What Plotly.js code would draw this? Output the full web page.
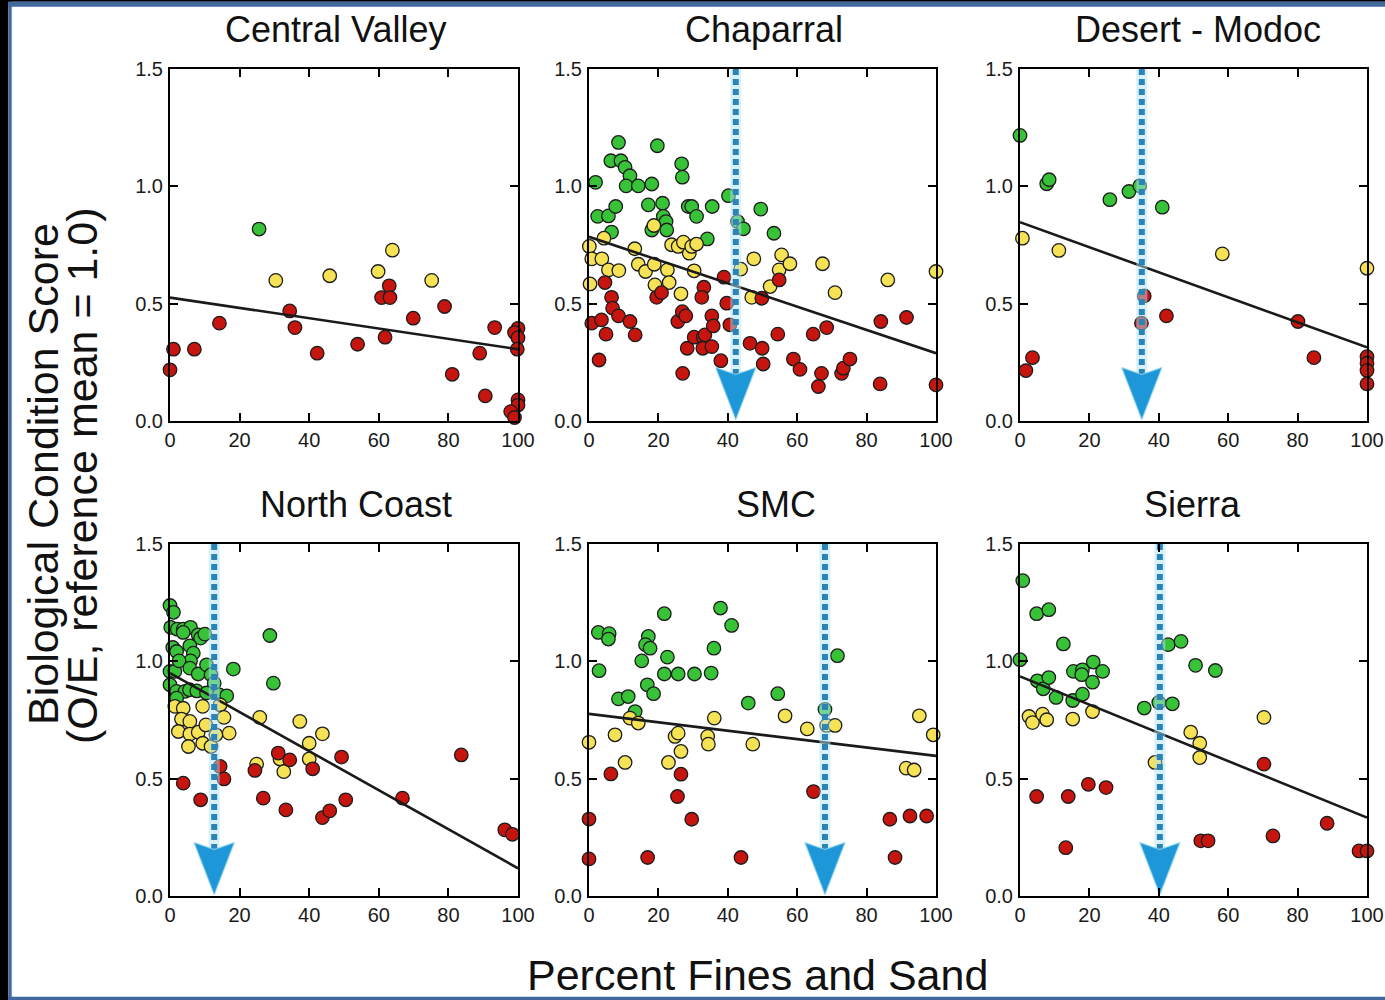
<!DOCTYPE html>
<html><head><meta charset="utf-8">
<script src="https://cdn.plot.ly/plotly-3.0.1.min.js"></script>
<style>html,body{margin:0;padding:0;background:#fff;} #chart{width:1385px;height:1000px;}</style>
</head><body><div id="chart"></div>
<script>
// ---------------- DATA ----------------
const regions = ['Central Valley', 'Chaparral', 'Desert - Modoc', 'North Coast', 'SMC', 'Sierra'];
const xTickVals = [0, 20, 40, 60, 80, 100];
const yTickVals = [0, 0.5, 1.0, 1.5];
const yTickText = ['0.0', '0.5', '1.0', '1.5'];
const xAxisTitle = 'Percent Fines and Sand';
const yAxisTitle1 = 'Biological Condition Score';
const yAxisTitle2 = '(O/E, reference mean = 1.0)';

// Central Valley
const cvGreenX = [25.6];
const cvGreenY = [0.818];
const cvYellowX = [30.4, 45.9, 59.8, 63.9, 75.2];
const cvYellowY = [0.599, 0.619, 0.637, 0.728, 0.599];
const cvRedX = [0, 1.0, 7.0, 14.2, 34.4, 35.9, 42.3, 53.9, 60.8, 63.0, 63.2, 61.8, 69.9, 78.9, 81.1, 89.0, 90.6, 93.3, 100, 99.0, 100, 99.8, 100, 100, 97.9, 99.0];
const cvRedY = [0.218, 0.306, 0.306, 0.417, 0.469, 0.398, 0.289, 0.327, 0.526, 0.576, 0.526, 0.357, 0.438, 0.488, 0.199, 0.289, 0.107, 0.398, 0.395, 0.377, 0.355, 0.306, 0.09, 0.068, 0.04, 0.015];

// Chaparral
const chGreenX = [8.5, 19.7, 1.9, 6.3, 9.2, 10.4, 11.8, 10.7, 14.2, 18.1, 26.7, 26.9, 2.5, 5.6, 7.7, 6.5, 17.1, 21.2, 21.4, 22.2, 18.1, 22.4, 28.6, 29.6, 31.0, 34.1, 35.5, 40.2, 42.8, 44.5, 49.5, 53.3];
const chGreenY = [1.187, 1.173, 1.017, 1.109, 1.109, 1.081, 1.045, 1.002, 1.002, 1.010, 1.096, 1.039, 0.872, 0.874, 0.914, 0.805, 0.921, 0.928, 0.872, 0.850, 0.814, 0.814, 0.914, 0.914, 0.872, 0.776, 0.914, 0.960, 0.850, 0.819, 0.903, 0.800];
const chYellowX = [0.1, 0.8, 3.7, 0.3, 4.3, 5.6, 8.6, 13.2, 14.2, 16.3, 18.8, 19.0, 18.7, 22.6, 23.1, 23.8, 25.7, 27.2, 26.5, 28.9, 29.6, 30.3, 31.0, 43.7, 47.5, 46.9, 52.2, 55.5, 54.8, 57.9, 67.3, 70.9, 86.1, 100];
const chYellowY = [0.744, 0.691, 0.691, 0.584, 0.779, 0.644, 0.641, 0.734, 0.668, 0.637, 0.668, 0.580, 0.833, 0.644, 0.590, 0.751, 0.744, 0.762, 0.542, 0.715, 0.744, 0.640, 0.754, 0.647, 0.691, 0.527, 0.573, 0.708, 0.644, 0.670, 0.670, 0.547, 0.601, 0.637];
const chRedX = [0.8, 2.9, 3.6, 4.9, 4.6, 6.5, 6.8, 8.5, 11.8, 13.3, 19.5, 20.9, 25.6, 26.9, 27.9, 27.0, 28.3, 30.3, 32.9, 33.1, 32.5, 32.8, 33.4, 35.4, 35.8, 35.4, 38.0, 38.9, 39.7, 40.6, 46.4, 49.9, 50.2, 49.8, 54.8, 54.4, 58.9, 60.8, 64.6, 68.5, 67.0, 66.1, 72.8, 73.3, 75.2, 83.9, 84.1, 91.5, 100];
const chRedY = [0.417, 0.260, 0.431, 0.370, 0.590, 0.527, 0.481, 0.448, 0.424, 0.367, 0.527, 0.547, 0.424, 0.466, 0.448, 0.203, 0.310, 0.357, 0.357, 0.570, 0.527, 0.310, 0.367, 0.448, 0.405, 0.317, 0.257, 0.613, 0.502, 0.410, 0.331, 0.310, 0.243, 0.523, 0.601, 0.370, 0.264, 0.220, 0.370, 0.398, 0.203, 0.147, 0.203, 0.225, 0.264, 0.158, 0.424, 0.441, 0.154];

// Desert - Modoc
const dmGreenX = [0, 7.7, 8.4, 25.9, 31.4, 34.5, 41.0];
const dmGreenY = [1.217, 1.011, 1.028, 0.943, 0.978, 1.002, 0.911];
const dmYellowX = [0.7, 11.2, 58.3, 100];
const dmYellowY = [0.779, 0.727, 0.712, 0.651];
const dmRedX = [1.7, 3.6, 35.8, 35.0, 42.2, 80.1, 84.7, 100, 100, 100, 100];
const dmRedY = [0.215, 0.270, 0.533, 0.417, 0.448, 0.424, 0.270, 0.274, 0.246, 0.215, 0.158];

// North Coast
const ncGreenX = [0, 1.0, 0.2, 2.1, 3.8, 5.9, 3.8, 8.1, 8.8, 10.0, 0.8, 1.9, 5.7, 6.7, 5.9, 0, 1.4, 2.6, 5.7, 8.1, 10.5, 11.8, 12.7, 0, 1.9, 4.3, 5.6, 7.7, 10.5, 14.2, 16.3, 18.2, 28.7, 29.7, 1.9];
const ncGreenY = [1.238, 1.209, 1.145, 1.137, 1.137, 1.145, 1.123, 1.113, 1.099, 1.116, 1.059, 1.042, 1.066, 1.035, 1.002, 0.957, 0.957, 1.002, 0.971, 0.946, 0.985, 0.943, 0.907, 0.900, 0.872, 0.872, 0.879, 0.874, 0.865, 0.857, 0.853, 0.967, 1.110, 0.907, 0.843];
const ncYellowX = [1.4, 3.8, 3.3, 5.7, 2.4, 5.7, 8.1, 5.3, 9.4, 9.4, 10.3, 11.8, 13.2, 14.4, 15.5, 17.0, 25.8, 37.3, 43.8, 40.0, 40.0, 31.6, 32.7, 24.9];
const ncYellowY = [0.808, 0.800, 0.754, 0.744, 0.701, 0.690, 0.698, 0.637, 0.651, 0.808, 0.729, 0.637, 0.687, 0.815, 0.761, 0.694, 0.761, 0.744, 0.691, 0.651, 0.584, 0.584, 0.530, 0.562];
const ncRedX = [3.8, 8.8, 14.4, 15.5, 24.4, 26.8, 31.1, 34.4, 33.3, 41.0, 43.8, 45.9, 49.3, 50.5, 66.8, 83.7, 96.2, 98.4];
const ncRedY = [0.481, 0.410, 0.552, 0.499, 0.535, 0.417, 0.609, 0.580, 0.367, 0.542, 0.334, 0.363, 0.592, 0.410, 0.417, 0.601, 0.282, 0.263];

// SMC
const smGreenX = [2.7, 5.8, 5.6, 2.9, 8.5, 11.3, 13.3, 17.1, 16.3, 17.6, 15.2, 16.8, 18.6, 21.7, 22.6, 21.7, 25.7, 30.4, 35.2, 36.0, 37.9, 41.1, 45.9, 54.4, 68.0, 71.6];
const smGreenY = [1.123, 1.118, 1.095, 0.960, 0.840, 0.850, 0.786, 1.106, 1.071, 1.056, 1.002, 0.900, 0.862, 1.203, 1.018, 0.946, 0.946, 0.946, 0.950, 1.056, 1.227, 1.153, 0.822, 0.862, 0.795, 1.024];
const smYellowX = [0, 7.5, 10.4, 11.8, 14.2, 22.9, 24.8, 25.7, 26.5, 34.2, 34.4, 36.1, 47.2, 56.5, 62.9, 68.5, 70.9, 91.4, 93.7, 95.2, 99.2];
const smYellowY = [0.655, 0.687, 0.569, 0.758, 0.737, 0.569, 0.680, 0.694, 0.616, 0.680, 0.647, 0.758, 0.647, 0.768, 0.712, 0.727, 0.727, 0.545, 0.537, 0.768, 0.687];
const smRedX = [0, 0, 6.3, 16.9, 26.5, 25.5, 29.6, 43.8, 64.7, 86.7, 88.2, 92.5, 97.3];
const smRedY = [0.328, 0.158, 0.520, 0.164, 0.519, 0.424, 0.327, 0.164, 0.445, 0.327, 0.164, 0.341, 0.341];

// Sierra
const siGreenX = [0.8, 4.8, 8.3, 0, 12.5, 5.0, 6.7, 8.3, 10.4, 15.4, 18.0, 17.8, 21.1, 20.9, 23.8, 15.2, 18.0, 35.8, 40.0, 43.9, 42.7, 46.4, 50.6, 56.3];
const siGreenY = [1.344, 1.203, 1.220, 1.007, 1.074, 0.917, 0.883, 0.931, 0.846, 0.957, 0.964, 0.943, 0.997, 0.911, 0.957, 0.833, 0.860, 0.801, 0.825, 0.819, 1.071, 1.085, 0.983, 0.961];
const siYellowX = [2.6, 3.6, 6.5, 7.7, 15.2, 20.9, 38.9, 49.2, 51.8, 51.8, 70.3];
const siYellowY = [0.765, 0.739, 0.775, 0.751, 0.754, 0.786, 0.569, 0.698, 0.651, 0.590, 0.761];
const siRedX = [4.8, 13.9, 13.2, 19.7, 24.8, 52.1, 54.2, 70.3, 72.9, 88.5, 97.7, 100];
const siRedY = [0.424, 0.424, 0.206, 0.476, 0.462, 0.235, 0.235, 0.562, 0.256, 0.310, 0.192, 0.192];

// Regression fit values at 0% and 100% fines
const fitAt0 = [0.526, 0.785, 0.847, 0.950, 0.776, 0.936];
const fitAt100 = [0.306, 0.289, 0.314, 0.118, 0.597, 0.334];
// Threshold (% fines and sand) marked by arrows
const thresholds = [null, 42.3, 35.1, 12.7, 68.0, 40.3];

// ---------------- STYLE / LAYOUT ----------------
const W = 1385, H = 1000;
const colPx = [[170, 518], [589, 936], [1020, 1367]];
const rowPx = [[69, 421], [544, 896]];
const titleCenterPx = [335, 764, 1198, 356, 776, 1192];
const GREEN = '#38c238', YELLOW = '#f6e255', RED = '#c5150e';
const ARROW_HALF_W = 5.8, ARROW_TOP = 0.228, ARROW_NOTCH = 0.198, ARROW_TIP = 0.005, ARROW_LINE_TOP = 1.5;
const FONT = 'Liberation Sans, Arial, Helvetica, sans-serif';

const groups = [
  [cvGreenX, cvGreenY, cvYellowX, cvYellowY, cvRedX, cvRedY],
  [chGreenX, chGreenY, chYellowX, chYellowY, chRedX, chRedY],
  [dmGreenX, dmGreenY, dmYellowX, dmYellowY, dmRedX, dmRedY],
  [ncGreenX, ncGreenY, ncYellowX, ncYellowY, ncRedX, ncRedY],
  [smGreenX, smGreenY, smYellowX, smYellowY, smRedX, smRedY],
  [siGreenX, siGreenY, siYellowX, siYellowY, siRedX, siRedY]
];

const px2x = p => p / W;
const px2y = p => 1 - p / H;

const traces = [];
const layout = {
  width: W, height: H, autosize: false,
  margin: {l: 0, r: 0, t: 0, b: 0, pad: 0},
  paper_bgcolor: '#ffffff', plot_bgcolor: '#ffffff',
  showlegend: false,
  font: {family: FONT, color: '#111'},
  annotations: [], shapes: []
};

function marker(color) {
  return {size: 13.5, color: color, line: {color: '#1c1c1c', width: 1.3}};
}

regions.forEach((name, i) => {
  const col = i % 3, row = Math.floor(i / 3);
  const suffix = i === 0 ? '' : String(i + 1);
  const xa = 'x' + suffix, ya = 'y' + suffix;
  const g = groups[i];
  const common = {xaxis: xa, yaxis: ya, type: 'scatter', hoverinfo: 'skip', cliponaxis: false};
  traces.push(Object.assign({x: g[0], y: g[1], mode: 'markers', marker: marker(GREEN)}, common));
  traces.push(Object.assign({x: g[2], y: g[3], mode: 'markers', marker: marker(YELLOW)}, common));
  traces.push(Object.assign({x: g[4], y: g[5], mode: 'markers', marker: marker(RED)}, common));
  traces.push(Object.assign({x: [0, 100], y: [fitAt0[i], fitAt100[i]], mode: 'lines', line: {color: '#1a1a1a', width: 2.6}}, common));
  const t = thresholds[i];
  if (t !== null) {
    traces.push(Object.assign({x: [t, t], y: [ARROW_LINE_TOP, ARROW_NOTCH], mode: 'lines', line: {color: 'rgba(175,228,246,0.5)', width: 11}}, common));
    traces.push(Object.assign({x: [t, t], y: [ARROW_LINE_TOP, ARROW_NOTCH], mode: 'lines', line: {color: '#2b83b6', width: 6, dash: '6px,4px'}}, common));
    traces.push(Object.assign({
      x: [t - ARROW_HALF_W, t, t + ARROW_HALF_W, t, t - ARROW_HALF_W],
      y: [ARROW_TOP, ARROW_NOTCH, ARROW_TOP, ARROW_TIP, ARROW_TOP],
      mode: 'lines', fill: 'toself', fillcolor: '#1d97d7', line: {color: 'rgba(150,215,240,0.6)', width: 1.5}
    }, common));
  }
  const axCommon = {
    showline: true, linecolor: '#000', linewidth: 2, mirror: 'ticks',
    ticks: 'inside', ticklen: 8, tickwidth: 2, tickcolor: '#000',
    showgrid: false, zeroline: false, fixedrange: true, automargin: false,
    tickfont: {family: FONT, size: 20, color: '#1a1a1a'}
  };
  layout['xaxis' + suffix] = Object.assign({}, axCommon, {
    domain: [px2x(colPx[col][0]), px2x(colPx[col][1])], anchor: ya,
    range: [0, 100], tickvals: xTickVals, ticktext: xTickVals.map(String)
  });
  layout['yaxis' + suffix] = Object.assign({}, axCommon, {
    domain: [px2y(rowPx[row][1]), px2y(rowPx[row][0])], anchor: xa,
    range: [0, 1.5], tickvals: yTickVals, ticktext: yTickText, ticklabelstandoff: 1
  });
  layout.annotations.push({
    text: name, xref: 'paper', yref: 'paper', showarrow: false,
    x: px2x(titleCenterPx[i]), y: px2y(rowPx[row][0] - 40), xanchor: 'center', yanchor: 'middle',
    font: {family: FONT, size: 36, color: '#111'}
  });
});

layout.annotations.push({
  text: xAxisTitle, xref: 'paper', yref: 'paper', showarrow: false,
  x: px2x(757), y: px2y(975), xanchor: 'center', yanchor: 'middle',
  font: {family: FONT, size: 43, color: '#111'}
});
layout.annotations.push({
  text: yAxisTitle1, xref: 'paper', yref: 'paper', showarrow: false, textangle: -90,
  x: px2x(43), y: px2y(474), xanchor: 'center', yanchor: 'middle',
  font: {family: FONT, size: 43, color: '#111'}
});
layout.annotations.push({
  text: yAxisTitle2, xref: 'paper', yref: 'paper', showarrow: false, textangle: -90,
  x: px2x(82), y: px2y(476), xanchor: 'center', yanchor: 'middle',
  font: {family: FONT, size: 43, color: '#111'}
});

// Slide frame
layout.shapes.push({type: 'rect', xref: 'paper', yref: 'paper', x0: 0, x1: px2x(8.3), y0: 0, y1: 1, fillcolor: '#000', line: {width: 0}, layer: 'above'});
layout.shapes.push({type: 'rect', xref: 'paper', yref: 'paper', x0: px2x(8.3), x1: px2x(11.7), y0: 0, y1: 1, fillcolor: '#41699e', line: {width: 0}, layer: 'above'});
layout.shapes.push({type: 'rect', xref: 'paper', yref: 'paper', x0: 0, x1: 1, y0: px2y(1.7), y1: 1, fillcolor: '#000', line: {width: 0}, layer: 'above'});
layout.shapes.push({type: 'rect', xref: 'paper', yref: 'paper', x0: px2x(8.3), x1: 1, y0: px2y(6.7), y1: px2y(1.7), fillcolor: '#41699e', line: {width: 0}, layer: 'above'});
layout.shapes.push({type: 'rect', xref: 'paper', yref: 'paper', x0: px2x(8.3), x1: 1, y0: 0, y1: px2y(996.7), fillcolor: '#41699e', line: {width: 0}, layer: 'above'});

Plotly.newPlot('chart', traces, layout, {staticPlot: true, displayModeBar: false});
</script>
</body></html>
